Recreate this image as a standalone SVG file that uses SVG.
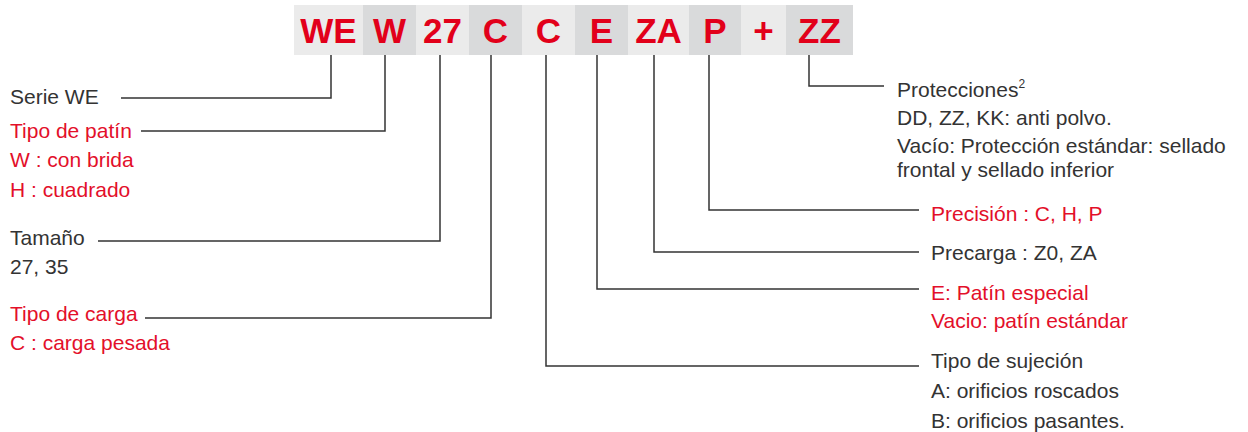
<svg xmlns="http://www.w3.org/2000/svg" width="1248" height="432" viewBox="0 0 1248 432">
<style>
.bl{fill:#ebebeb}
.bd{fill:#d9dadb}
.code{font-family:"Liberation Sans",Arial,sans-serif;font-weight:bold;font-size:35px;fill:#e2001a;text-anchor:middle}
.t{font-family:"Liberation Sans",Arial,sans-serif;font-size:21px;fill:#333333}
.r{fill:#e30f2a}
.conn{fill:none;stroke:#333333;stroke-width:1.5}
</style>
<rect width="1248" height="432" fill="#ffffff"/>
<g id="code-band">
<rect class="bl" x="294" y="5" width="69" height="50"/>
<rect class="bd" x="363" y="5" width="53" height="50"/>
<rect class="bl" x="416" y="5" width="53" height="50"/>
<rect class="bd" x="469" y="5" width="53" height="50"/>
<rect class="bl" x="522" y="5" width="53" height="50"/>
<rect class="bd" x="575" y="5" width="53" height="50"/>
<rect class="bl" x="628" y="5" width="61" height="50"/>
<rect class="bd" x="689" y="5" width="52" height="50"/>
<rect class="bl" x="741" y="5" width="45" height="50"/>
<rect class="bd" x="786" y="5" width="67" height="50"/>
<text class="code" x="328.5" y="43">WE</text>
<text class="code" x="389.5" y="43">W</text>
<text class="code" x="442.5" y="43">27</text>
<text class="code" x="495.5" y="43">C</text>
<text class="code" x="548.5" y="43">C</text>
<text class="code" x="601.5" y="43">E</text>
<text class="code" x="658.5" y="43">ZA</text>
<text class="code" x="715" y="43">P</text>
<text class="code" x="763.5" y="43">+</text>
<text class="code" x="819.5" y="43">ZZ</text>
</g>
<g id="connectors">
<path class="conn" d="M331,55 V98 H121"/>
<path class="conn" d="M385,55 V131 H141"/>
<path class="conn" d="M440,55 V241 H98"/>
<path class="conn" d="M491,55 V318 H145"/>
<path class="conn" d="M546,55 V366 H919"/>
<path class="conn" d="M597,55 V289 H919"/>
<path class="conn" d="M654,55 V252 H919"/>
<path class="conn" d="M709,55 V210 H919"/>
<path class="conn" d="M809,55 V86 H884"/>
</g>
<g id="serie">
<text class="t" x="10" y="104">Serie WE</text>
</g>
<g id="tipo-patin">
<text class="t r" x="10" y="138">Tipo de patín</text>
<text class="t r" x="10" y="167">W : con brida</text>
<text class="t r" x="10" y="197">H : cuadrado</text>
</g>
<g id="tamano">
<text class="t" x="10" y="245">Tamaño</text>
<text class="t" x="10" y="274">27, 35</text>
</g>
<g id="tipo-carga">
<text class="t r" x="10" y="321">Tipo de carga</text>
<text class="t r" x="10" y="350">C : carga pesada</text>
</g>
<g id="protecciones">
<text class="t" x="897" y="97">Protecciones<tspan font-size="12" dy="-9">2</tspan></text>
<text class="t" x="897" y="125">DD, ZZ, KK: anti polvo.</text>
<text class="t" x="897" y="153">Vacío: Protección estándar: sellado</text>
<text class="t" x="897" y="177">frontal y sellado inferior</text>
</g>
<g id="precision">
<text class="t r" x="931" y="221">Precisión : C, H, P</text>
</g>
<g id="precarga">
<text class="t" x="931" y="260">Precarga : Z0, ZA</text>
</g>
<g id="patin-especial">
<text class="t r" x="931" y="300">E: Patín especial</text>
<text class="t r" x="931" y="328">Vacio: patín estándar</text>
</g>
<g id="sujecion">
<text class="t" x="931" y="368">Tipo de sujeción</text>
<text class="t" x="931" y="398">A: orificios roscados</text>
<text class="t" x="931" y="428">B: orificios pasantes.</text>
</g>
</svg>
